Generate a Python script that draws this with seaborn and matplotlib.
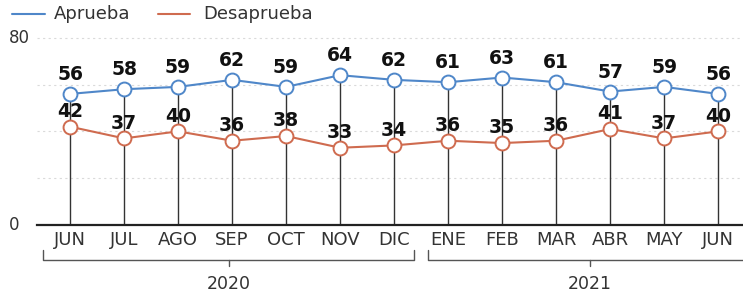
"""
Aprobación / desaprobación mensual, jun 2020 - jun 2021.
"""
import matplotlib
matplotlib.use("Agg")
import matplotlib.pyplot as plt
import seaborn as sns
import pandas as pd

meses = ["JUN", "JUL", "AGO", "SEP", "OCT", "NOV", "DIC",
         "ENE", "FEB", "MAR", "ABR", "MAY", "JUN"]
aprueba = [56, 58, 59, 62, 59, 64, 62, 61, 63, 61, 57, 59, 56]
desaprueba = [42, 37, 40, 36, 38, 33, 34, 36, 35, 36, 41, 37, 40]
anios = ["2020", "2021"]
meses_por_anio = [7, 6]

AZUL = "#4f87c9"
NARANJA = "#cf6b4f"

sns.set_theme(style="white")
plt.rcParams["font.family"] = ["DejaVu Sans"]

pos = list(range(len(meses)))
df = pd.DataFrame({
    "x": pos * 2,
    "valor": aprueba + desaprueba,
    "serie": ["Aprueba"] * len(meses) + ["Desaprueba"] * len(meses),
})

fig = plt.figure(figsize=(7.43, 2.97), dpi=100)
ax = fig.add_axes([0.05, 0.2424, 0.95, 0.6566])

# líneas guía punteadas
for g in [20, 40, 60, 80]:
    ax.axhline(g, color="#dadada", lw=0.8, ls=(0, (2, 3)), zorder=0)

# tallos verticales desde 0 hasta el punto de "Aprueba"
ax.vlines(pos, 0, aprueba, color="#333333", lw=1.0, zorder=1)

sns.lineplot(data=df, x="x", y="valor", hue="serie",
             palette={"Aprueba": AZUL, "Desaprueba": NARANJA},
             marker="o", markersize=10, markerfacecolor="white",
             markeredgewidth=1.4, lw=1.5, ax=ax, legend=False, zorder=3)
for ln, c in zip(ax.lines[-2:], [AZUL, NARANJA]):
    ln.set_markeredgecolor(c)

for x, a, d in zip(pos, aprueba, desaprueba):
    ax.annotate(str(a), (x, a), xytext=(0, 14), textcoords="offset points",
                ha="center", va="center", fontsize=13.5, fontweight="bold",
                color="#111111", zorder=5)
    ax.annotate(str(d), (x, d), xytext=(0, 11), textcoords="offset points",
                ha="center", va="center", fontsize=13.5, fontweight="bold",
                color="#111111", zorder=5)

ax.set_xlim(-0.61, 12.46)
ax.set_ylim(0, 83.3)
ax.set_yticks([0, 80])
ax.set_yticklabels(["0", "80"], fontsize=12, color="#333333")
ax.set_xticks(pos)
ax.set_xticklabels(meses, fontsize=13, color="#333333")
ax.tick_params(axis="both", length=0, pad=4)
ax.tick_params(axis="y", pad=20)
for lbl in ax.get_yticklabels():
    lbl.set_va("center")
    lbl.set_ha("left")
sns.despine(ax=ax, left=True, top=True, right=True)
ax.spines["bottom"].set_color("#222222")
ax.spines["bottom"].set_linewidth(1.6)
ax.set_xlabel("")
ax.set_ylabel("")

# corchetes de años
trans = ax.get_xaxis_transform()
y_b = -0.18
inicio = -0.5
for anio, n in zip(anios, meses_por_anio):
    x0 = inicio
    x1 = inicio + n - 0.13
    if anio == anios[-1]:
        x1 = 12.6
    xm = (x0 + x1) / 2 if anio != anios[-1] else inicio + (n - 1) / 2 + 0.5
    ax.plot([x0, x0, x1, x1], [y_b + 0.05, y_b, y_b, y_b + 0.05],
            color="#555555", lw=1.0, transform=trans, clip_on=False)
    ax.plot([xm, xm], [y_b, y_b - 0.03], color="#555555", lw=1.0,
            transform=trans, clip_on=False)
    ax.text(xm, -0.3, anio, transform=trans, ha="center", va="center",
            fontsize=12.5, color="#333333")
    inicio = inicio + n + 0.13

# leyenda
fig.lines.append(plt.Line2D([0.016, 0.06], [0.953, 0.953], color=AZUL, lw=1.5,
                            transform=fig.transFigure))
fig.text(0.073, 0.953, "Aprueba", fontsize=13, color="#333333", va="center")
fig.lines.append(plt.Line2D([0.213, 0.256], [0.953, 0.953], color=NARANJA, lw=1.5,
                            transform=fig.transFigure))
fig.text(0.274, 0.953, "Desaprueba", fontsize=13, color="#333333", va="center")

fig.savefig("out.png", dpi=100)
plt.close(fig)
